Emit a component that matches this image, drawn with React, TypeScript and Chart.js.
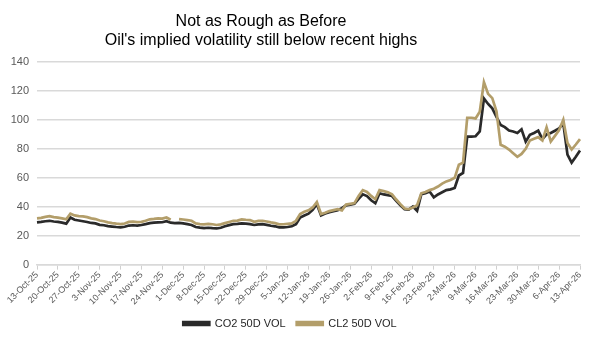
import React, { useEffect, useRef } from 'react';
import { Chart, registerables } from 'chart.js';

Chart.register(...registerables);

const tickLabels = [
  '13-Oct-25', '20-Oct-25', '27-Oct-25', '3-Nov-25', '10-Nov-25', '17-Nov-25', '24-Nov-25',
  '1-Dec-25', '8-Dec-25', '15-Dec-25', '22-Dec-25', '29-Dec-25', '5-Jan-26', '12-Jan-26',
  '19-Jan-26', '26-Jan-26', '2-Feb-26', '9-Feb-26', '16-Feb-26', '23-Feb-26', '2-Mar-26',
  '9-Mar-26', '16-Mar-26', '23-Mar-26', '30-Mar-26', '6-Apr-26', '13-Apr-26',
];

// one category per trading day; weekly (Monday) entries carry the tick label
const categories: string[] = tickLabels.flatMap((t, w) =>
  w < tickLabels.length - 1 ? [t, '', '', '', ''] : [t]
);

const co2Vol = [
  29.2, 29.5, 30, 30.3, 29.8,
  29.5, 29, 28.3, 32.6, 31,
  30.5, 30, 29.5, 28.8, 28.5,
  27.5, 27.2, 26.6, 26.3, 26,
  25.8, 26.2, 27, 27.2, 27,
  27.4, 28, 28.7, 29, 29.2,
  29.3, 30, 29, 28.7, 28.8,
  28.5, 28, 27.4, 26, 25.6,
  25.3, 25.5, 25.2, 25, 25.5,
  26.5, 27.3, 28, 28.2, 28.5,
  28.3, 28, 27.4, 27.8, 28,
  27.5, 26.9, 26.5, 25.8, 25.8,
  26, 26.5, 28, 32.6, 34,
  35.2, 37.8, 41.8, 34, 35.3,
  36.3, 37, 37.6, 39, 41,
  41.5, 42, 45.5, 48.6, 47.4,
  44.5, 42.4, 49.3, 48.5, 48,
  47.4, 44, 41, 38.3, 38,
  40.2, 37.2, 48.6, 49.3, 50.5,
  46.5, 48.5, 50, 51.5, 52,
  53, 61.6, 63.4, 88.5, 88.5,
  88.7, 92, 114.8, 111, 108,
  102, 96.5, 95, 92.6, 92,
  91, 93.5, 85, 89.7, 91,
  92.6, 86.7, 90, 91, 92.5,
  94.2, 97.7, 76, 70.5, 74.5,
  78.9,
];

const cl2Vol = [
  32, 32.3, 33, 33.5, 32.8,
  32.5, 32, 31.3, 35.2, 34,
  33.5, 33.3, 32.8, 32, 31.5,
  30.5, 30, 29.2, 28.7, 28.3,
  28, 28.4, 29.5, 29.7, 29.4,
  29.6, 30.3, 31.3, 31.6, 32,
  31.8, 32.6, 31, null, 31.5,
  31.2, 30.8, 30.3, 28.5, 28,
  27.8, 28.2, 27.9, 27.4, 27.8,
  28.7, 29.5, 30.3, 30.4, 31.3,
  31, 30.8, 29.6, 30.2, 30.3,
  29.8, 29.2, 28.7, 27.8, 27.9,
  28.2, 28.5, 30.3, 34.9, 36.5,
  37.5, 39.5, 43.3, 35, 35.8,
  37, 37.7, 38.3, 37.5, 41.5,
  42, 42.5, 47.5, 51.5, 50.2,
  47.5, 45.2, 51.5, 50.8, 50,
  48.6, 45, 41.8, 38.8, 38.3,
  39.5, 41, 49.3, 50.2, 51.5,
  52.5, 54, 56, 57.5, 58.5,
  60, 69, 70.5, 101.5, 101.5,
  101, 105.6, 126.1, 118, 115,
  106, 82.8, 81.5, 79.5, 77,
  74.5, 76.5, 80, 85.8, 87,
  88.1, 85.8, 94.9, 85.1, 89,
  93, 100, 84, 79.5, 83,
  86.7,
];

const seriesNames = ['CO2 50D VOL', 'CL2 50D VOL'];
const titleLines = ['Not as Rough as Before', "Oil's implied volatility still below recent highs"];

const FONT = "'Liberation Sans', Arial, sans-serif";

export default function App() {
  const ref = useRef<HTMLCanvasElement>(null);

  useEffect(() => {
    document.body.style.margin = '0';
    if (!ref.current) return;
    const chart = new Chart(ref.current, {
      type: 'line',
      data: {
        labels: categories,
        datasets: [
          {
            label: seriesNames[0],
            data: co2Vol,
            borderColor: '#2a2a2a',
            backgroundColor: '#2a2a2a',
            borderWidth: 2.7,
            pointRadius: 0,
            tension: 0,
            order: 1,
          },
          {
            label: seriesNames[1],
            data: cl2Vol,
            borderColor: '#b39e6a',
            backgroundColor: '#b39e6a',
            borderWidth: 2.7,
            pointRadius: 0,
            tension: 0,
            spanGaps: false,
            order: 0,
          },
        ],
      },
      options: {
        animation: false,
        responsive: false,
        maintainAspectRatio: false,
        layout: { padding: { top: 62, right: 20, left: 0, bottom: 0 } },
        plugins: {
          title: { display: false },
          tooltip: { enabled: false },
          legend: {
            position: 'bottom',
            labels: {
              boxWidth: 26,
              boxHeight: 3,
              padding: 11,
              color: '#262626',
              font: { family: FONT, size: 11 },
              sort: (a: any, b: any) => a.datasetIndex - b.datasetIndex,
            },
          },
        },
        scales: {
          x: {
            grid: {
              drawOnChartArea: false,
              drawTicks: true,
              tickLength: 5,
              color: (ctx: any) => (ctx.index % 5 === 0 ? '#d0d0d0' : 'rgba(0,0,0,0)'),
            },
            border: { display: true, color: '#d9d9d9', width: 1.5 },
            ticks: {
              autoSkip: false,
              maxRotation: 45,
              minRotation: 45,
              padding: 0,
              color: '#595959',
              font: { family: FONT, size: 9 },
              callback: (_v: any, i: number) => categories[i],
            },
          },
          y: {
            min: 0,
            max: 140,
            ticks: {
              stepSize: 20,
              padding: 8,
              color: '#595959',
              font: { family: FONT, size: 11 },
            },
            grid: { color: '#d9d9d9', lineWidth: 1.5, drawTicks: false },
            border: { display: false },
            afterFit: (s: any) => {
              s.width = 37;
            },
          },
        },
      },
    });
    return () => chart.destroy();
  }, []);

  return (
    <div style={{ position: 'fixed', left: 0, top: 0, width: 600, height: 339, background: '#fff' }}>
      <canvas ref={ref} width={600} height={339} style={{ position: 'absolute', left: 0, top: 0 }} />
      <div
        style={{
          position: 'absolute',
          left: 261 - 250,
          top: 11,
          width: 500,
          textAlign: 'center',
          fontFamily: FONT,
          fontSize: 16,
          lineHeight: '19px',
          color: '#000',
        }}
      >
        <div>{titleLines[0]}</div>
        <div>{titleLines[1]}</div>
      </div>
    </div>
  );
}
